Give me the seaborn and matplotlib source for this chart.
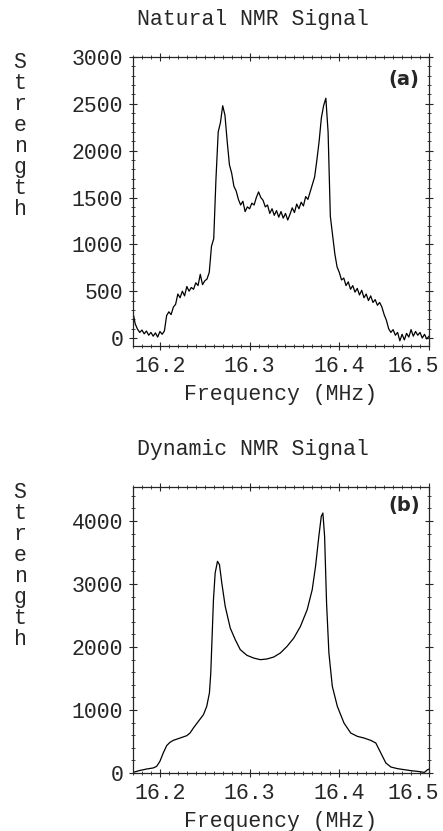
import numpy as np
import pandas as pd
import matplotlib
matplotlib.use("Agg")
import matplotlib.pyplot as plt
import matplotlib.transforms as mtransforms
from matplotlib.ticker import MultipleLocator
import seaborn as sns

# ---------------- data: panel (a) natural NMR signal ----------------
freq_a = [16.1700, 16.1725, 16.1750, 16.1775, 16.1800, 16.1825, 16.1850, 16.1875, 16.1900, 16.1925,
          16.1950, 16.1975, 16.2000, 16.2025, 16.2050, 16.2075, 16.2100, 16.2125, 16.2150, 16.2175,
          16.2200, 16.2225, 16.2250, 16.2275, 16.2300, 16.2325, 16.2350, 16.2375, 16.2400, 16.2425,
          16.2450, 16.2475, 16.2500, 16.2525, 16.2550, 16.2575, 16.2600, 16.2625, 16.2650, 16.2675,
          16.2700, 16.2725, 16.2750, 16.2775, 16.2800, 16.2825, 16.2850, 16.2875, 16.2900, 16.2925,
          16.2950, 16.2975, 16.3000, 16.3025, 16.3050, 16.3075, 16.3100, 16.3125, 16.3150, 16.3175,
          16.3200, 16.3225, 16.3250, 16.3275, 16.3300, 16.3325, 16.3350, 16.3375, 16.3400, 16.3425,
          16.3450, 16.3475, 16.3500, 16.3525, 16.3550, 16.3575, 16.3600, 16.3625, 16.3650, 16.3675,
          16.3700, 16.3725, 16.3750, 16.3775, 16.3800, 16.3825, 16.3850, 16.3875, 16.3900, 16.3925,
          16.3950, 16.3975, 16.4000, 16.4025, 16.4050, 16.4075, 16.4100, 16.4125, 16.4150, 16.4175,
          16.4200, 16.4225, 16.4250, 16.4275, 16.4300, 16.4325, 16.4350, 16.4375, 16.4400, 16.4425,
          16.4450, 16.4475, 16.4500, 16.4525, 16.4550, 16.4575, 16.4600, 16.4625, 16.4650, 16.4675,
          16.4700, 16.4725, 16.4750, 16.4775, 16.4800, 16.4825, 16.4850, 16.4875, 16.4900, 16.4925,
          16.4950, 16.4975, 16.5000]
strength_a = [270, 150, 95, 60, 85, 45, 75, 30, 60, 20,
              55, 10, 70, 40, 75, 240, 280, 250, 330, 360,
              470, 430, 500, 450, 550, 500, 540, 520, 590, 560,
              680, 570, 610, 630, 700, 980, 1060, 1700, 2200, 2300,
              2480, 2380, 2100, 1850, 1760, 1620, 1570, 1480, 1420, 1460,
              1350, 1400, 1380, 1440, 1420, 1500, 1560, 1500, 1470, 1400,
              1420, 1330, 1380, 1310, 1360, 1290, 1350, 1280, 1330, 1260,
              1320, 1390, 1340, 1430, 1380, 1450, 1410, 1510, 1480, 1560,
              1640, 1720, 1900, 2100, 2350, 2480, 2560, 2200, 1300, 1100,
              900, 760, 700, 620, 640, 560, 600, 520, 560, 490,
              530, 460, 510, 430, 470, 400, 450, 380, 410, 350,
              380, 330, 250, 190, 100, 60, 90, 30, 60, -30,
              40, -20, 50, 10, 90, 20, 70, 30, 60, 0,
              40, -10, 20]

# ---------------- data: panel (b) dynamic NMR signal ----------------
freq_b = [16.1701, 16.1776, 16.1851, 16.1925, 16.1963, 16.2000, 16.2037, 16.2075, 16.2112, 16.2149,
          16.2224, 16.2299, 16.2336, 16.2373, 16.2429, 16.2485, 16.2522, 16.2552, 16.2567, 16.2582,
          16.2597, 16.2616, 16.2642, 16.2664, 16.2690, 16.2728, 16.2784, 16.2840, 16.2896, 16.2970,
          16.3045, 16.3119, 16.3194, 16.3269, 16.3343, 16.3418, 16.3493, 16.3567, 16.3642, 16.3698,
          16.3735, 16.3772, 16.3799, 16.3817, 16.3836, 16.3858, 16.3884, 16.3922, 16.3978, 16.4052,
          16.4127, 16.4201, 16.4276, 16.4351, 16.4407, 16.4463, 16.4519, 16.4575, 16.4649, 16.4724,
          16.4799, 16.4873, 16.4948, 16.4985, 16.5004]
strength_b = [10, 40, 63, 80, 105, 185, 317, 434, 487, 518,
              555, 592, 635, 714, 820, 925, 1058, 1270, 1587, 2169,
              2751, 3175, 3360, 3307, 3016, 2646, 2302, 2116, 1958, 1868,
              1825, 1799, 1810, 1841, 1905, 2011, 2143, 2328, 2593, 2910,
              3280, 3757, 4074, 4127, 3757, 2698, 1905, 1376, 1058, 794,
              635, 582, 555, 518, 476, 317, 159, 95, 69, 53,
              37, 26, 10, 53, 63]

titles = ["Natural NMR Signal", "Dynamic NMR Signal"]
panel_labels = ["(a)", "(b)"]
x_ticks = [16.2, 16.3, 16.4, 16.5]
x_tick_labels = ["16.2", "16.3", "16.4", "16.5"]
y_ticks_a = [0, 500, 1000, 1500, 2000, 2500, 3000]
y_ticks_b = [0, 1000, 2000, 3000, 4000]

df_a = pd.DataFrame({"freq": freq_a, "strength": strength_a})
df_b = pd.DataFrame({"freq": freq_b, "strength": strength_b})

sns.set_style("ticks")
MONO = ["Liberation Mono", "DejaVu Sans Mono"]
plt.rcParams["font.family"] = MONO

W, H = 443, 831
fig = plt.figure(figsize=(W / 100, H / 100), dpi=100)

def box(l, t, r, b):
    return [l / W, 1 - b / H, (r - l) / W, (b - t) / H]

ax_a = fig.add_axes(box(133, 57, 429, 346))
ax_b = fig.add_axes(box(133, 487, 429, 773))

FS = 15.5

panels = [
    (ax_a, df_a, (-85, 3000), y_ticks_a, 100, titles[0], panel_labels[0], 20, 80, 52),
    (ax_b, df_b, (0, 4540), y_ticks_b, 200, titles[1], panel_labels[1], 449, 505, 482),
]

for ax, df, ylim, yt, yminor, title, plabel, ty, ly, s_top in panels:
    sns.lineplot(data=df, x="freq", y="strength", ax=ax, color="black",
                 linewidth=0.9, estimator=None, sort=False)
    ax.set_xlim(16.170, 16.5)
    ax.set_ylim(*ylim)
    ax.set_xticks(x_ticks)
    ax.set_xticklabels(x_tick_labels)
    ax.set_yticks(yt)
    ax.set_yticklabels([str(v) for v in yt])
    ax.xaxis.set_minor_locator(MultipleLocator(0.01))
    ax.yaxis.set_minor_locator(MultipleLocator(yminor))
    ax.tick_params(which="major", direction="inout", length=6, width=0.8,
                   top=True, right=True, labelsize=FS, pad=4)
    ax.tick_params(which="minor", direction="inout", length=3, width=0.6,
                   top=True, right=True)
    # keep the last x tick label inside the figure (as in the reference)
    last = ax.get_xticklabels()[-1]
    last.set_transform(last.get_transform() +
                       mtransforms.ScaledTranslation(-16 / 100, 0, fig.dpi_scale_trans))
    for sp in ax.spines.values():
        sp.set_visible(True)
        sp.set_linewidth(0.9)
    ax.set_xlabel("Frequency (MHz)", fontsize=FS, labelpad=5)
    ax.set_ylabel("")
    fig.text(253 / W, 1 - ty / H, title, ha="center", va="center", fontsize=FS)
    fig.text(404 / W, 1 - ly / H, plabel, ha="center", va="center", fontsize=14,
             fontweight="bold", family=["DejaVu Sans"])
    fig.text(20 / W, 1 - s_top / H, "S\nt\nr\ne\nn\ng\nt\nh", ha="center", va="top",
             fontsize=FS, linespacing=1.0)

fig.savefig("out.png", dpi=100)
